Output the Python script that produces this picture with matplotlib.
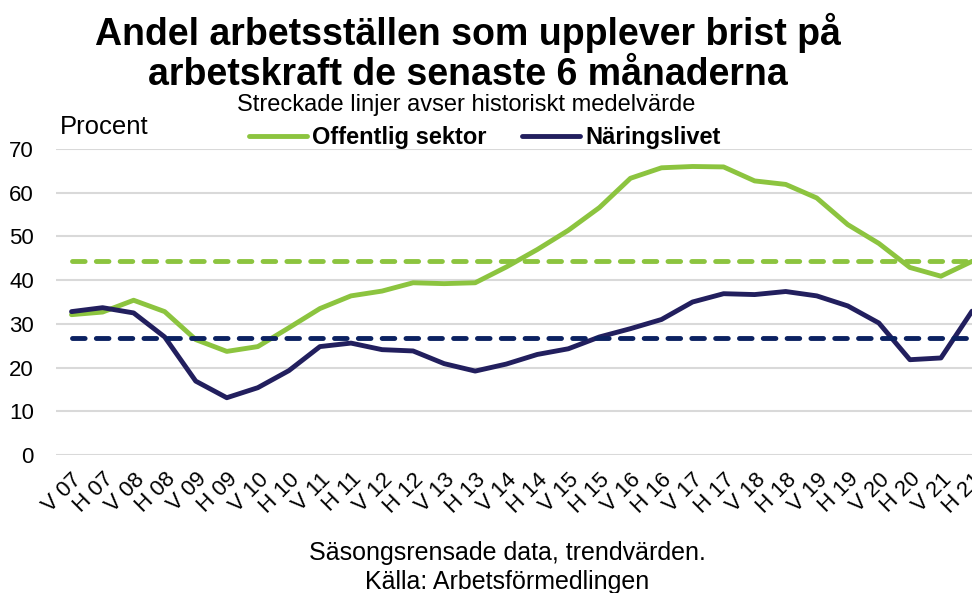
import matplotlib.pyplot as plt

plt.rcParams['font.family'] = ['Liberation Sans', 'DejaVu Sans']

# Halvår V 07 .. H 21
perioder = []
for ar in range(7, 22):
    perioder += ['V %02d' % ar, 'H %02d' % ar]

offentlig = [32.1, 32.7, 35.4, 32.8, 26.4, 23.7, 24.8, 29.1, 33.5, 36.4,
             37.5, 39.4, 39.2, 39.4, 43.0, 47.0, 51.4, 56.6, 63.3, 65.7,
             66.0, 65.9, 62.7, 61.9, 58.8, 52.7, 48.4, 42.9, 40.9, 44.3]
naringsliv = [32.8, 33.7, 32.5, 27.0, 16.9, 13.1, 15.4, 19.3, 24.8, 25.6,
              24.1, 23.8, 20.9, 19.2, 20.8, 23.0, 24.3, 27.0, 28.9, 31.0,
              35.0, 36.9, 36.7, 37.4, 36.4, 34.1, 30.2, 21.8, 22.2, 32.9]
medel_offentlig = 44.3
medel_naringsliv = 26.8

green = '#8cc43f'
navy = '#221f5e'
navy_dash = '#0b2161'

fig = plt.figure(figsize=(9.72, 5.93), dpi=100)
ax = fig.add_axes([56 / 972, 1 - 455 / 593, 916 / 972, 306 / 593])

x = range(len(perioder))
ax.plot(x, offentlig, color=green, lw=3.5, label='Offentlig sektor', solid_capstyle='round')
ax.plot(x, naringsliv, color=navy, lw=3.5, label='Näringslivet', solid_capstyle='round')
ax.plot(x, [medel_offentlig] * len(perioder), color=green, lw=3.5,
        dashes=(2.6, 2.3), dash_capstyle='round')
ax.plot(x, [medel_naringsliv] * len(perioder), color=navy_dash, lw=3.5,
        dashes=(2.6, 2.3), dash_capstyle='round')

ax.set_xlim(-0.5, 29.0)
ax.set_ylim(0, 70)
ax.set_yticks(range(0, 71, 10))
ax.set_xticks(list(x))
ax.set_xticklabels(perioder, rotation=45, ha='right', rotation_mode='anchor')
ax.tick_params(axis='both', length=0, labelsize=16)
ax.tick_params(axis='y', pad=16)
ax.tick_params(axis='x', pad=10)
ax.grid(axis='y', color='#d9d9d9', lw=1.5)
ax.set_axisbelow(True)
for s in ax.spines.values():
    s.set_visible(False)

fig.text(0.481, 0.978, 'Andel arbetsställen som upplever brist på\narbetskraft de senaste 6 månaderna',
         ha='center', va='top', fontsize=27, fontweight='bold', linespacing=1.12)
fig.text(0.480, 0.823, 'Streckade linjer avser historiskt medelvärde', ha='center', va='center', fontsize=17)
fig.text(0.062, 0.785, 'Procent', ha='left', va='center', fontsize=18.5)

leg = fig.legend(loc='center', bbox_to_anchor=(0.499, 0.768), ncol=2, frameon=False,
                 prop={'weight': 'bold', 'size': 17}, handlelength=2.45,
                 handletextpad=0.22, columnspacing=1.5, borderaxespad=0, borderpad=0)

fig.text(0.522, 0.068, 'Säsongsrensade data, trendvärden.', ha='center', va='center', fontsize=18)
fig.text(0.522, 0.018, 'Källa: Arbetsförmedlingen', ha='center', va='center', fontsize=18)

fig.savefig('out.png', dpi=100)
